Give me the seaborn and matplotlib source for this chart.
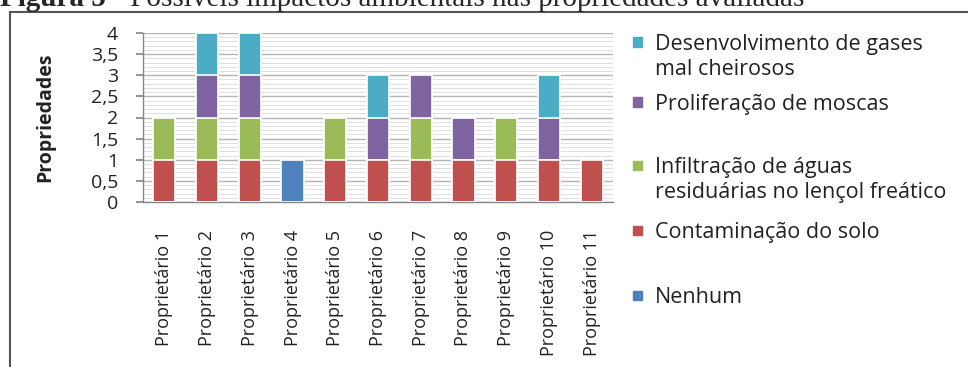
import numpy as np
import pandas as pd
import seaborn as sns
import matplotlib.pyplot as plt
from matplotlib.lines import Line2D
from matplotlib.patches import Rectangle
from matplotlib.ticker import MultipleLocator

proprietarios = ["Proprietário %d" % i for i in range(1, 12)]
nenhum = [0, 0, 0, 1, 0, 0, 0, 0, 0, 0, 0]
contaminacao = [1, 1, 1, 0, 1, 1, 1, 1, 1, 1, 1]
infiltracao = [1, 1, 1, 0, 1, 0, 1, 0, 1, 0, 0]
moscas = [0, 1, 1, 0, 0, 1, 1, 1, 0, 1, 0]
gases = [0, 1, 1, 0, 0, 1, 0, 0, 0, 1, 0]
yticks = [0, 0.5, 1, 1.5, 2, 2.5, 3, 3.5, 4]

# bottom to top of the stack
series = [
    ("Nenhum", nenhum, "#4F81BD"),
    ("Contaminação do solo", contaminacao, "#C0504D"),
    ("Infiltração de águas\nresiduárias no lençol freático", infiltracao, "#9BBB59"),
    ("Proliferação de moscas", moscas, "#8064A2"),
    ("Desenvolvimento de gases\nmal cheirosos", gases, "#4BACC6"),
]

sns.set_theme(style="white")
plt.rcParams['font.family'] = ['Open Sans', 'DejaVu Sans']

fig = plt.figure(figsize=(9.68, 3.67), dpi=100)
ax = fig.add_axes([143/968, 1-202/367, 470/968, 169/367])

tops = np.cumsum([s[1] for s in series], axis=0)
for (name, vals, color), top in reversed(list(zip(series, tops))):
    df = pd.DataFrame({"prop": proprietarios, "total": top})
    sns.barplot(data=df, x="prop", y="total", color=color, width=0.52,
                edgecolor="white", linewidth=1.2, saturation=1, ax=ax, zorder=3)

ax.set_xlim(-0.5, 10.5)
ax.set_ylim(0, 4)
ax.set_yticks(yticks)
ax.set_yticklabels([("%g" % v).replace(".", ",") for v in yticks])
ax.yaxis.set_minor_locator(MultipleLocator(0.1))
ax.set_axisbelow(True)
ax.grid(which="minor", axis="y", color="#dedede", lw=0.7)
ax.grid(which="major", axis="y", color="#b4b4b4", lw=1.0)
ax.tick_params(axis="y", which="major", left=True, length=5, color="#868686",
               pad=13, labelsize=14, labelcolor="#222222")
ax.tick_params(axis="y", which="minor", left=False)
ax.tick_params(axis="x", bottom=False, pad=14, labelsize=13, labelcolor="#222222")
plt.setp(ax.get_xticklabels(), rotation=90, ha="center", va="top")
for s in ["top", "right"]:
    ax.spines[s].set_visible(False)
for s in ["left", "bottom"]:
    ax.spines[s].set_color("#868686")
    ax.spines[s].set_linewidth(1.0)
ax.set_xlabel("")
ax.set_ylabel("Propriedades", fontsize=14, fontweight="bold", color="#222222")
ax.yaxis.set_label_coords(-0.187, 0.5)

# legend, placed like the original (entries unevenly spaced)
legend_rows = [42, 102, 165, 230, 295]
for (name, vals, color), y0 in zip(reversed(series), legend_rows):
    fig.add_artist(Rectangle((633/968, 1-(y0+4.5)/367), 9/968, 9/367,
                             transform=fig.transFigure, color=color))
    for k, line in enumerate(name.split("\n")):
        fig.text(655/968, 1-(y0+25*k)/367, line, fontsize=15.5, color="#222222",
                 va="center_baseline", ha="left")

# frame around the figure
fig.add_artist(Line2D([10/968, 10/968], [0, 1-12/367], transform=fig.transFigure,
                      color="#555555", lw=1.5))
fig.add_artist(Line2D([10/968, 1], [1-12/367, 1-12/367], transform=fig.transFigure,
                      color="#555555", lw=1.5))

# caption, cut at the top like the source
t1 = fig.text(0, 1-6/367, "Figura 5", fontsize=21, fontweight="bold",
              family="Liberation Serif", va="baseline", ha="left")
r = fig.canvas.get_renderer()
bb = t1.get_window_extent(r)
fig.text(bb.x1/968, 1-6/367, " - Possíveis impactos ambientais nas propriedades avaliadas",
         fontsize=21, family="Liberation Serif", va="baseline", ha="left")

fig.savefig("out.png", dpi=100)
